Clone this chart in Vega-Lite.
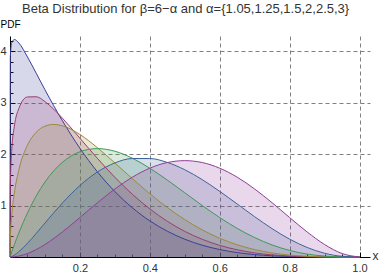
{
  "$schema": "https://vega.github.io/schema/vega-lite/v6.json",
  "width": 360,
  "height": 221,
  "autosize": {"type": "none"},
  "padding": {"left": 10, "top": 36, "right": 12, "bottom": 18},
  "background": "white",
  "title": {
    "text": "Beta Distribution for β=6−α and α={1.05,1.25,1.5,2,2.5,3}",
    "font": "Liberation Sans",
    "fontSize": 13,
    "fontWeight": "normal",
    "color": "#333333",
    "anchor": "start",
    "frame": "group",
    "align": "left",
    "dx": 12,
    "baseline": "alphabetic",
    "offset": -7
  },
  "config": {"view": {"stroke": null}, "font": "Liberation Sans"},
  "data": {
    "values": [
      {"x": 0, "a1": 0, "a2": 0, "a3": 0, "a4": 0, "a5": 0, "a6": 0},
      {"x": 0.001, "a1": 3.904, "a2": 1.414, "a3": 0.367, "a4": 0.020, "a5": 0.0009, "a6": 0.00003},
      {"x": 0.005, "a1": 4.164, "a2": 2.083, "a3": 0.809, "a4": 0.099, "a5": 0.0095, "a6": 0.0007},
      {"x": 0.0125, "a1": 4.232, "a2": 2.546, "a3": 1.246, "a4": 0.241, "a5": 0.037, "a6": 0.0046},
      {"x": 0.025, "a1": 4.166, "a2": 2.886, "a3": 1.685, "a4": 0.463, "a5": 0.101, "a6": 0.018},
      {"x": 0.05, "a1": 3.892, "a2": 3.114, "a3": 2.176, "a4": 0.857, "a5": 0.267, "a6": 0.068},
      {"x": 0.075, "a1": 3.575, "a2": 3.118, "a3": 2.427, "a4": 1.187, "a5": 0.459, "a6": 0.144},
      {"x": 0.1, "a1": 3.254, "a2": 3.024, "a3": 2.546, "a4": 1.458, "a5": 0.660, "a6": 0.243},
      {"x": 0.125, "a1": 2.944, "a2": 2.877, "a3": 2.579, "a4": 1.675, "a5": 0.860, "a6": 0.359},
      {"x": 0.15, "a1": 2.650, "a2": 2.701, "a3": 2.553, "a4": 1.842, "a5": 1.051, "a6": 0.488},
      {"x": 0.2, "a1": 2.116, "a2": 2.312, "a3": 2.384, "a4": 2.048, "a5": 1.391, "a6": 0.768},
      {"x": 0.25, "a1": 1.658, "a2": 1.919, "a3": 2.127, "a4": 2.109, "a5": 1.654, "a6": 1.055},
      {"x": 0.3, "a1": 1.274, "a2": 1.551, "a3": 1.830, "a4": 2.058, "a5": 1.830, "a6": 1.323},
      {"x": 0.35, "a1": 0.958, "a2": 1.221, "a3": 1.525, "a4": 1.922, "a5": 1.916, "a6": 1.553},
      {"x": 0.4, "a1": 0.703, "a2": 0.935, "a3": 1.232, "a4": 1.728, "a5": 1.916, "a6": 1.728},
      {"x": 0.45, "a1": 0.502, "a2": 0.695, "a3": 0.964, "a4": 1.497, "a5": 1.840, "a6": 1.838},
      {"x": 0.5, "a1": 0.346, "a2": 0.499, "a3": 0.728, "a4": 1.25, "a5": 1.698, "a6": 1.875},
      {"x": 0.55, "a1": 0.229, "a2": 0.344, "a3": 0.528, "a4": 1.002, "a5": 1.505, "a6": 1.838},
      {"x": 0.6, "a1": 0.145, "a2": 0.226, "a3": 0.365, "a4": 0.768, "a5": 1.277, "a6": 1.728},
      {"x": 0.65, "a1": 0.086, "a2": 0.140, "a3": 0.238, "a4": 0.557, "a5": 1.032, "a6": 1.553},
      {"x": 0.7, "a1": 0.047, "a2": 0.080, "a3": 0.144, "a4": 0.378, "a5": 0.784, "a6": 1.323},
      {"x": 0.75, "a1": 0.023, "a2": 0.041, "a3": 0.079, "a4": 0.234, "a5": 0.551, "a6": 1.055},
      {"x": 0.8, "a1": 0.0095, "a2": 0.018, "a3": 0.037, "a4": 0.128, "a5": 0.348, "a6": 0.768},
      {"x": 0.85, "a1": 0.0031, "a2": 0.0062, "a3": 0.014, "a4": 0.057, "a5": 0.186, "a6": 0.488},
      {"x": 0.9, "a1": 0.0006, "a2": 0.0014, "a3": 0.0035, "a4": 0.018, "a5": 0.073, "a6": 0.243},
      {"x": 0.95, "a1": 0.00001, "a2": 0.0001, "a3": 0.0003, "a4": 0.0024, "a5": 0.014, "a6": 0.068},
      {"x": 1.0, "a1": 0, "a2": 0, "a3": 0, "a4": 0, "a5": 0, "a6": 0}
    ]
  },
  "transform": [{"fold": ["a1", "a2", "a3", "a4", "a5", "a6"], "as": ["alpha", "pdf"]}],
  "resolve": {"axis": {"x": "independent", "y": "independent"}},
  "layer": [
    {
      "mark": {"type": "area", "interpolate": "monotone", "fillOpacity": 0.2},
      "encoding": {
        "x": {
          "field": "x", "type": "quantitative",
          "scale": {"domain": [0, 1.03], "nice": false},
          "axis": {
            "orient": "bottom",
            "values": [0.2, 0.4, 0.6, 0.8, 1.0],
            "format": ".1f",
            "grid": true, "gridDash": [4, 3], "gridColor": "#808080", "gridWidth": 1, "gridOpacity": 1,
            "domainColor": "#000000", "domainWidth": 1,
            "tickColor": "#000000", "tickSize": -5, "tickWidth": 1,
            "labelPadding": 10, "labelFontSize": 11, "labelColor": "#333333", "labelFont": "Liberation Sans",
            "title": "x", "titleX": 362, "titleY": -2, "titleAlign": "left", "titleBaseline": "middle",
            "titleAngle": 0, "titleFontSize": 12, "titleFontWeight": "normal", "titleColor": "#333333"
          }
        },
        "y": {
          "field": "pdf", "type": "quantitative", "stack": null,
          "scale": {"domain": [0, 4.3], "nice": false},
          "axis": {
            "orient": "left",
            "values": [1, 2, 3, 4],
            "format": "d",
            "grid": true, "gridDash": [4, 3], "gridColor": "#808080", "gridWidth": 1, "gridOpacity": 1,
            "domainColor": "#000000", "domainWidth": 1,
            "tickColor": "#000000", "tickSize": -5, "tickWidth": 1,
            "labelPadding": 9, "labelFontSize": 11, "labelColor": "#333333", "labelFont": "Liberation Sans",
            "title": "PDF", "titleX": -10, "titleY": -9, "titleAlign": "left", "titleBaseline": "alphabetic",
            "titleAngle": 0, "titleFontSize": 10, "titleFontWeight": "normal", "titleColor": "#000000"
          }
        },
        "color": {
          "field": "alpha", "type": "nominal", "legend": null,
          "scale": {"domain": ["a1", "a2", "a3", "a4", "a5", "a6"], "range": ["#3D3D99", "#993D71", "#998B3D", "#3D9956", "#3D6399", "#903D99"]}
        }
      }
    },
    {
      "mark": {"type": "line", "interpolate": "monotone", "strokeWidth": 1},
      "encoding": {
        "x": {
          "field": "x", "type": "quantitative",
          "axis": {
            "orient": "bottom",
            "values": [0.05, 0.1, 0.15, 0.25, 0.3, 0.35, 0.45, 0.5, 0.55, 0.65, 0.7, 0.75, 0.85, 0.9, 0.95],
            "labels": false, "grid": false, "domain": false, "title": null,
            "tickColor": "#000000", "tickSize": -3, "tickWidth": 1
          }
        },
        "y": {
          "field": "pdf", "type": "quantitative", "stack": null,
          "axis": {
            "orient": "left",
            "values": [0.2, 0.4, 0.6, 0.8, 1.2, 1.4, 1.6, 1.8, 2.2, 2.4, 2.6, 2.8, 3.2, 3.4, 3.6, 3.8, 4.2],
            "labels": false, "grid": false, "domain": false, "title": null,
            "tickColor": "#000000", "tickSize": -3, "tickWidth": 1
          }
        },
        "color": {"field": "alpha", "type": "nominal", "legend": null}
      }
    }
  ]
}
